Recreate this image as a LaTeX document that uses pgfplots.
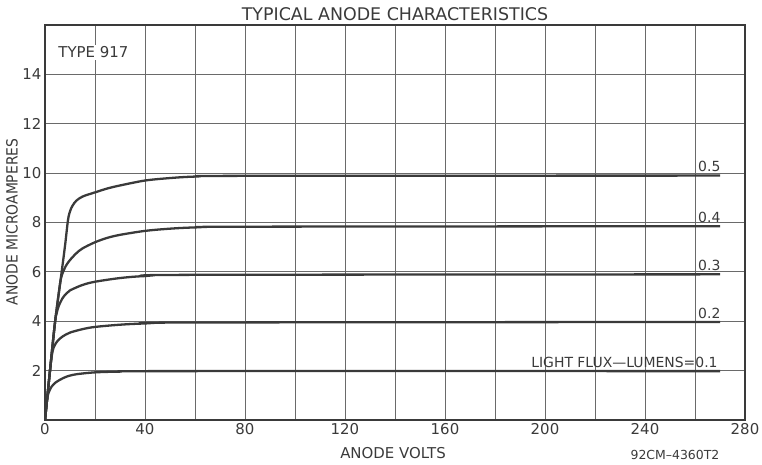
\documentclass[border=0pt]{standalone}
\usepackage{pgfplots}
\pgfplotsset{compat=1.18}
\usepackage{graphicx}
\usepackage{fontspec}
\setmainfont{DejaVu Sans}
\definecolor{ink}{HTML}{3A3A3A}
\definecolor{gridc}{HTML}{6A6A6A}
\pgfplotsset{curve/.style={ink, line width=2.3pt, smooth, tension=0.5, mark=none}}
\begin{document}
\begin{tikzpicture}
\path[use as bounding box] (-45bp,-45bp) rectangle (717bp,420bp);
\begin{axis}[
  at={(0,0)}, anchor=south west,
  scale only axis, width=700bp, height=395bp,
  xmin=0, xmax=280, ymin=0, ymax=16,
  xtick={0,40,...,280}, minor xtick={20,60,...,260},
  ytick={2,4,...,14},
  grid=both,
  major grid style={gridc, line width=0.9pt},
  minor grid style={gridc, line width=0.9pt},
  major tick length=0pt, minor tick length=0pt,
  axis line style={ink, line width=1.7pt},
  tick label style={font=\fontsize{15}{15}\selectfont, text=ink},
  /pgf/number format/assume math mode=true,
]
% 0.1 lumens
\addplot[curve] coordinates {(0,0) (0.5,0.55) (1,0.92) (1.5,1.12) (2.5,1.33) (4,1.5) (6,1.63) (8,1.73) (10,1.8) (13,1.86) (20,1.93) (30,1.96) (50,1.98) (270,1.98)};
% 0.2 lumens
\addplot[curve] coordinates {(0,0) (1,1) (2,2) (2.7,2.6) (3.5,2.95) (5,3.2) (7,3.38) (10,3.54) (15,3.68) (20,3.77) (30,3.86) (40,3.91) (60,3.95) (270,3.97)};
% 0.3 lumens
\addplot[curve] coordinates {(0,0) (1,1) (2,2) (4,3.95) (4.6,4.3) (5.5,4.62) (7,4.93) (8.5,5.12) (10,5.25) (15,5.47) (20,5.6) (30,5.75) (40,5.83) (60,5.88) (270,5.9)};
% 0.4 lumens
\addplot[curve] coordinates {(0,0) (1,1) (2,2) (4,3.95) (6,5.5) (6.7,5.85) (7.5,6.06) (8.5,6.27) (10,6.48) (12.5,6.75) (15,6.95) (20,7.2) (25,7.38) (30,7.5) (40,7.66) (50,7.75) (60,7.8) (80,7.83) (270,7.85)};
% 0.5 lumens
\addplot[curve] coordinates {(0,0) (1,1) (2,2) (4,3.95) (6.6,5.95) (8,7.05) (9.2,8.1) (10,8.45) (11,8.68) (12.5,8.88) (15,9.05) (20,9.22) (25,9.38) (30,9.5) (40,9.7) (50,9.8) (60,9.86) (80,9.89) (270,9.9)};

\node[anchor=south west, inner sep=1bp, text=ink, font=\fontsize{14}{14}\selectfont] at (axis cs:260.8,10.0) {0.5};
\node[anchor=south west, inner sep=1bp, text=ink, font=\fontsize{14}{14}\selectfont] at (axis cs:260.8,7.95) {0.4};
\node[anchor=south west, inner sep=1bp, text=ink, font=\fontsize{14}{14}\selectfont] at (axis cs:260.8,6.0) {0.3};
\node[anchor=south west, inner sep=1bp, text=ink, font=\fontsize{14}{14}\selectfont] at (axis cs:260.8,4.05) {0.2};
\node[anchor=south east, inner sep=1bp, text=ink, font=\fontsize{14}{14}\selectfont] at (axis cs:269.5,2.08) {LIGHT FLUX—LUMENS=0.1};
\node[anchor=west, fill=white, inner sep=2bp, text=ink, font=\fontsize{15}{15}\selectfont] at (axis cs:4.5,14.9) {TYPE 917};
\end{axis}
\node[text=ink, font=\fontsize{17.5}{17.5}\selectfont] at (350bp,406bp) {TYPICAL ANODE CHARACTERISTICS};
\node[text=ink, font=\fontsize{15}{15}\selectfont] at (348bp,-33bp) {ANODE VOLTS};
\node[text=ink, font=\fontsize{12.5}{12.5}\selectfont] at (630bp,-35bp) {92CM–4360T2};
\node[text=ink, rotate=90, inner sep=0pt, font=\fontsize{15.5}{15.5}\selectfont] at (-33bp,198bp) {\scalebox{0.9}[1]{ANODE MICROAMPERES}};
\end{tikzpicture}
\end{document}
